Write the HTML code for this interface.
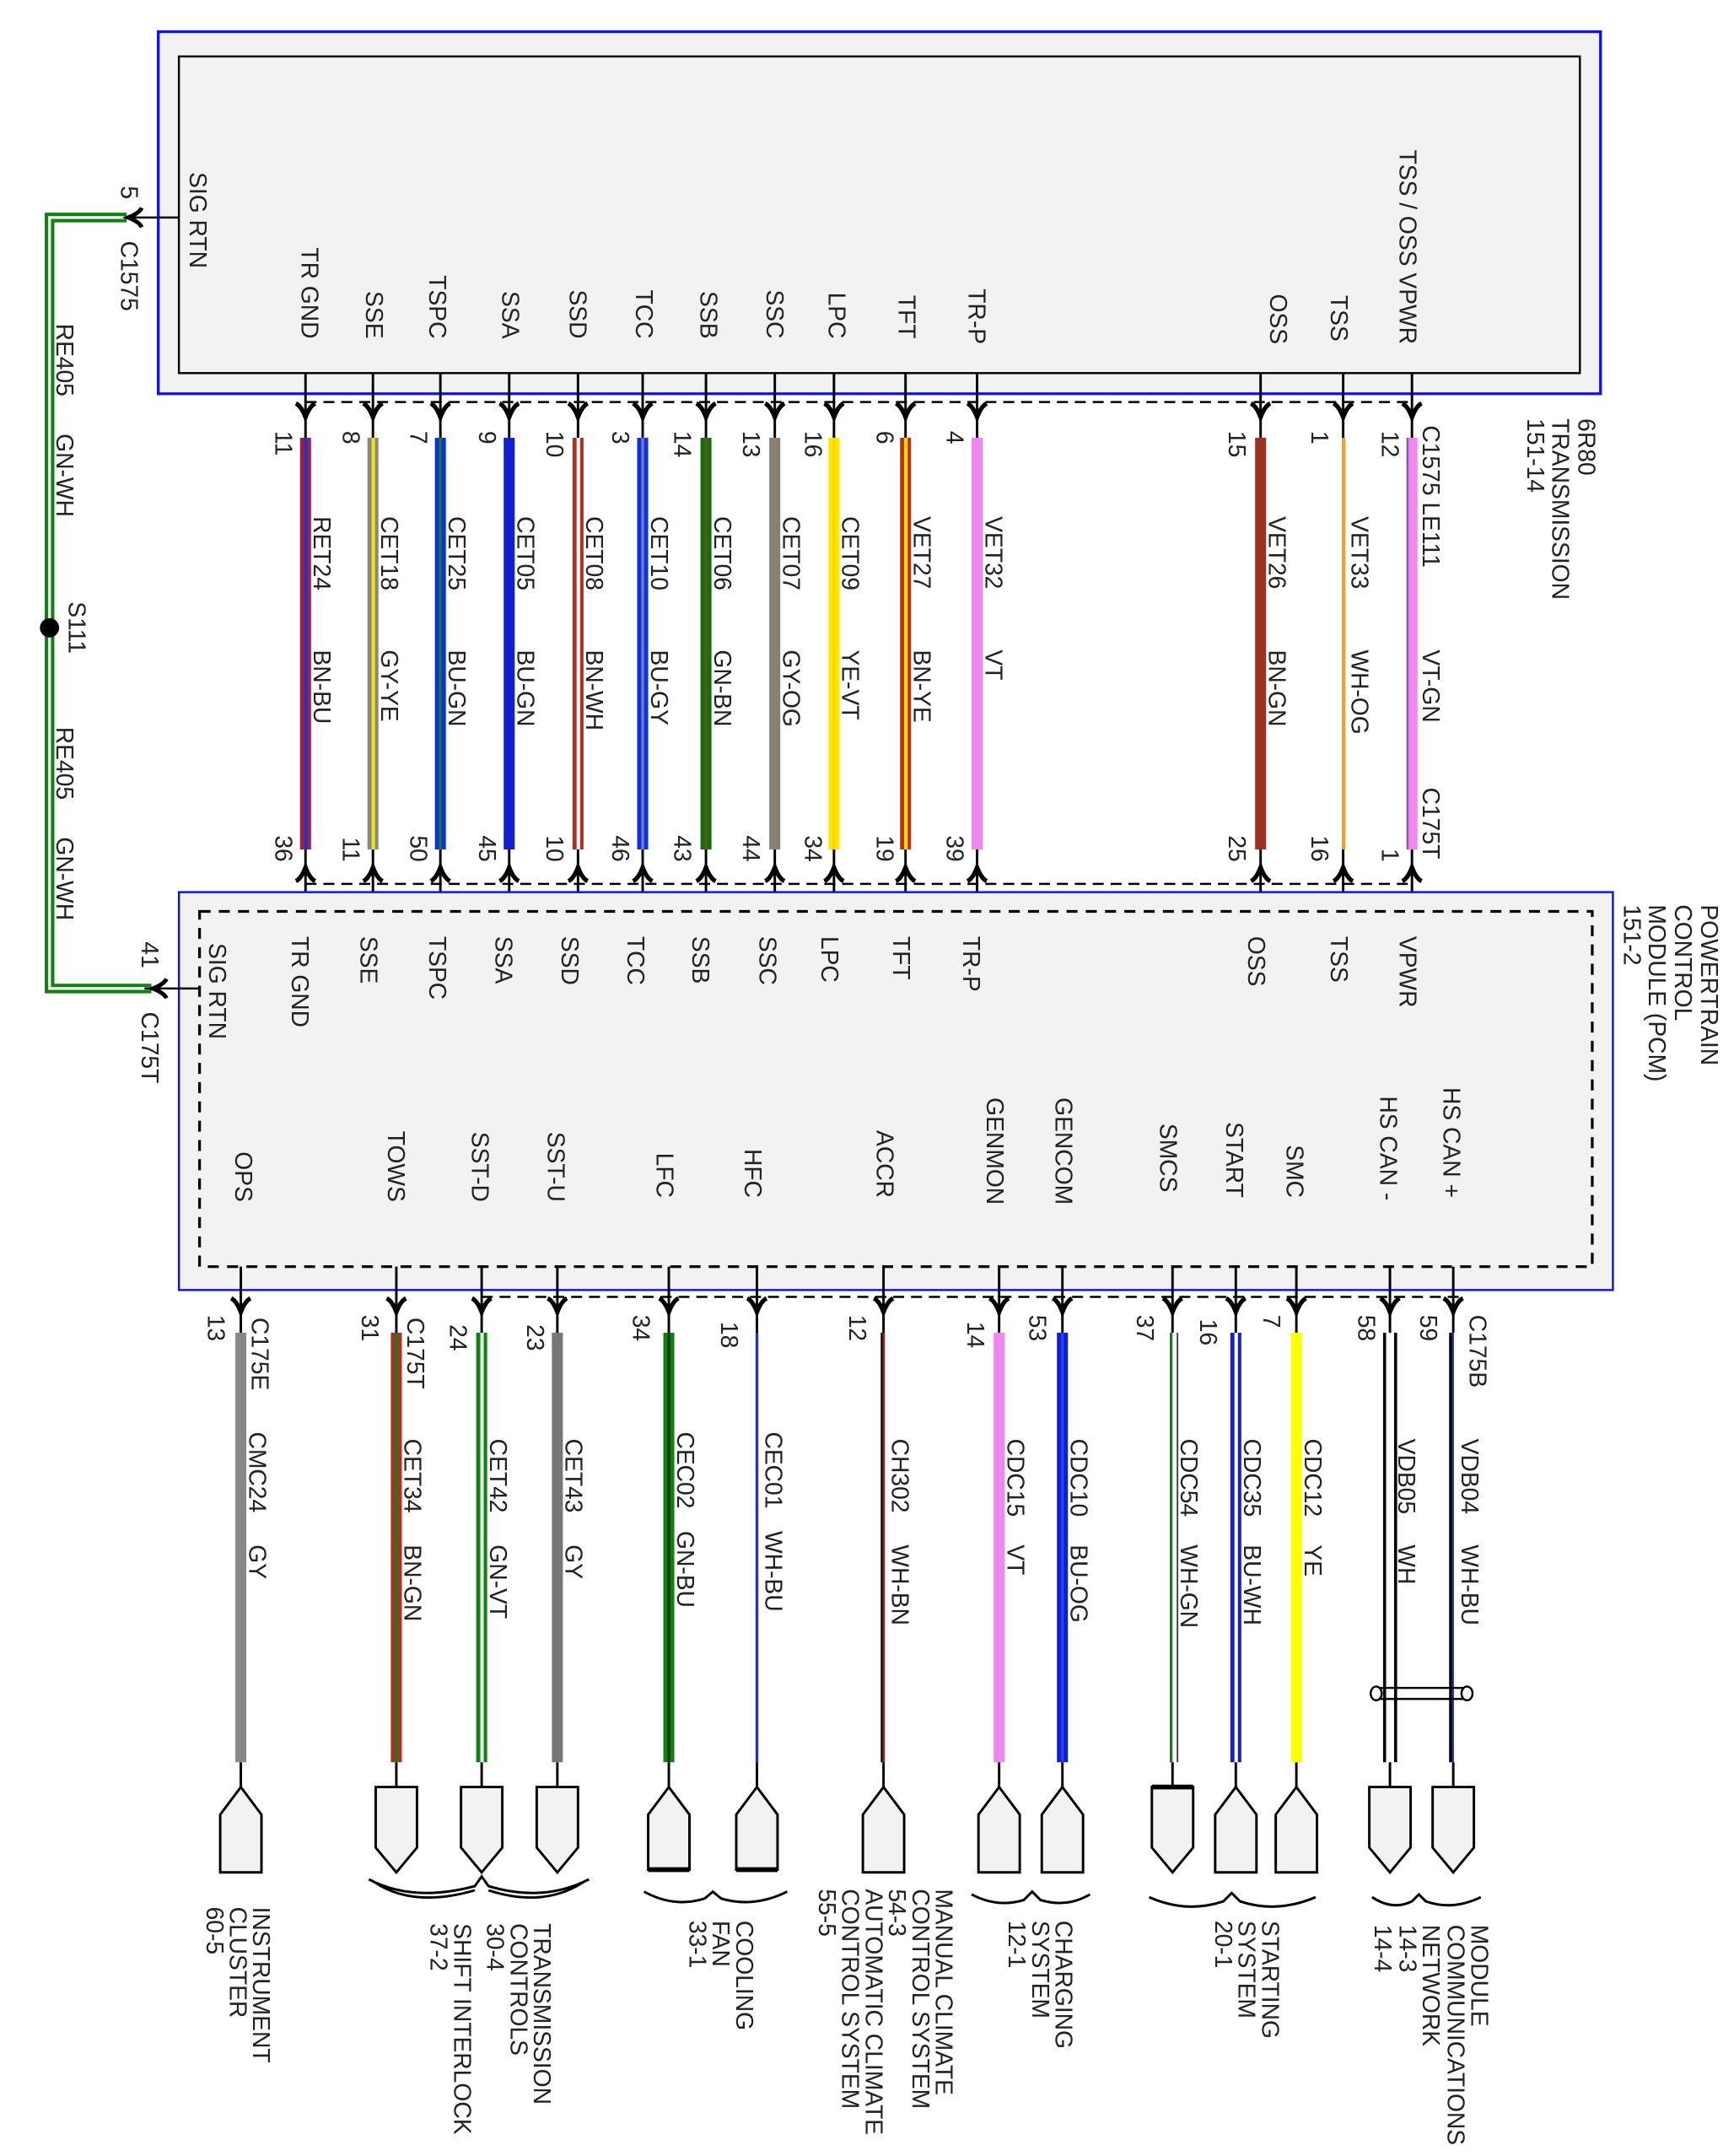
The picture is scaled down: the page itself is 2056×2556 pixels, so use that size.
<!DOCTYPE html>
<html><head><meta charset="utf-8"><style>
html,body{margin:0;padding:0;background:#fff}
svg{display:block}
text{font-family:"Liberation Sans",sans-serif;font-size:17.3px;fill:#222}
</style></head><body>
<svg width="2056" height="2556" viewBox="0 0 1260 1566" preserveAspectRatio="none" xmlns="http://www.w3.org/2000/svg">
<defs>
<path id="ad" d="M-7,-7 Q-3,-5 0,3 Q3,-5 7,-7" fill="none" stroke="#000" stroke-width="3.2"/>
<path id="au" d="M-7,7 Q-3,5 0,-3 Q3,5 7,7" fill="none" stroke="#000" stroke-width="3.2"/>
</defs>
<!-- TOP BOX -->
<rect x="115" y="23" width="1048" height="263" fill="#f2f2f2" stroke="#1010ee" stroke-width="2"/>
<rect x="130" y="41" width="1018" height="230" fill="none" stroke="#000" stroke-width="1.5"/>
<g text-anchor="end">
<text transform="translate(219,246) rotate(90)">TR GND</text>
<text transform="translate(266,246) rotate(90)">SSE</text>
<text transform="translate(312,246) rotate(90)">TSPC</text>
<text transform="translate(365,246) rotate(90)">SSA</text>
<text transform="translate(414,246) rotate(90)">SSD</text>
<text transform="translate(462,246) rotate(90)">TCC</text>
<text transform="translate(509,246) rotate(90)">SSB</text>
<text transform="translate(557,246) rotate(90)">SSC</text>
<text transform="translate(602,246) rotate(90)">LPC</text>
<text transform="translate(653,246) rotate(90)">TFT</text>
<text transform="translate(704,250) rotate(90)">TR-P</text>
<text transform="translate(923,250) rotate(90)">OSS</text>
<text transform="translate(967,248) rotate(90)">TSS</text>
<text transform="translate(1017,250) rotate(90)">TSS / OSS VPWR</text>
</g>
<text transform="translate(138,125) rotate(90)">SIG RTN</text>
<text transform="translate(1147,304) rotate(90)">6R80</text>
<text transform="translate(1128,304) rotate(90)">TRANSMISSION</text>
<text transform="translate(1110,304) rotate(90)">151-14</text>

<g stroke="#000" stroke-width="1.8">
<line x1="222" y1="271" x2="222" y2="318"/><line x1="271" y1="271" x2="271" y2="318"/><line x1="320" y1="271" x2="320" y2="318"/><line x1="370" y1="271" x2="370" y2="318"/><line x1="420" y1="271" x2="420" y2="318"/><line x1="467" y1="271" x2="467" y2="318"/><line x1="513" y1="271" x2="513" y2="318"/><line x1="563" y1="271" x2="563" y2="318"/><line x1="606" y1="271" x2="606" y2="318"/><line x1="658" y1="271" x2="658" y2="318"/><line x1="710" y1="271" x2="710" y2="318"/><line x1="916" y1="271" x2="916" y2="318"/><line x1="976" y1="271" x2="976" y2="318"/><line x1="1026" y1="271" x2="1026" y2="318"/>
<line x1="222" y1="617" x2="222" y2="662"/><line x1="271" y1="617" x2="271" y2="662"/><line x1="320" y1="617" x2="320" y2="662"/><line x1="370" y1="617" x2="370" y2="662"/><line x1="420" y1="617" x2="420" y2="662"/><line x1="467" y1="617" x2="467" y2="662"/><line x1="513" y1="617" x2="513" y2="662"/><line x1="563" y1="617" x2="563" y2="662"/><line x1="606" y1="617" x2="606" y2="662"/><line x1="658" y1="617" x2="658" y2="662"/><line x1="710" y1="617" x2="710" y2="662"/><line x1="916" y1="617" x2="916" y2="662"/><line x1="976" y1="617" x2="976" y2="662"/><line x1="1026" y1="617" x2="1026" y2="662"/>
</g>
<line x1="222" y1="292" x2="1028" y2="292" stroke="#000" stroke-width="1.5" stroke-dasharray="8,5"/>
<line x1="222" y1="642" x2="1028" y2="642" stroke="#000" stroke-width="1.5" stroke-dasharray="8,5"/>
<g>
<use href="#ad" x="222" y="300"/><use href="#ad" x="271" y="300"/><use href="#ad" x="320" y="300"/><use href="#ad" x="370" y="300"/><use href="#ad" x="420" y="300"/><use href="#ad" x="467" y="300"/><use href="#ad" x="513" y="300"/><use href="#ad" x="563" y="300"/><use href="#ad" x="606" y="300"/><use href="#ad" x="658" y="300"/><use href="#ad" x="710" y="300"/><use href="#ad" x="916" y="300"/><use href="#ad" x="976" y="300"/><use href="#ad" x="1026" y="300"/>
<use href="#au" x="222" y="633"/><use href="#au" x="271" y="633"/><use href="#au" x="320" y="633"/><use href="#au" x="370" y="633"/><use href="#au" x="420" y="633"/><use href="#au" x="467" y="633"/><use href="#au" x="513" y="633"/><use href="#au" x="563" y="633"/><use href="#au" x="606" y="633"/><use href="#au" x="658" y="633"/><use href="#au" x="710" y="633"/><use href="#au" x="916" y="633"/><use href="#au" x="976" y="633"/><use href="#au" x="1026" y="633"/>
</g>
<g>
<rect x="218" y="318" width="8" height="299" fill="#9b2335"/><rect x="221" y="318" width="2.5" height="299" fill="#2030d0"/>
<rect x="267" y="318" width="8" height="299" fill="#888"/><rect x="270" y="318" width="2.5" height="299" fill="#f0e800"/>
<rect x="316" y="318" width="8" height="299" fill="#1030e0"/><rect x="319" y="318" width="2" height="299" fill="#108010"/>
<rect x="366" y="318" width="8" height="299" fill="#1020d0"/>
<rect x="416" y="318" width="8" height="299" fill="#b03020"/><rect x="419" y="318" width="2.5" height="299" fill="#fff"/>
<rect x="463" y="318" width="8" height="299" fill="#1030e0"/><rect x="466" y="318" width="2" height="299" fill="#7080c0"/>
<rect x="509" y="318" width="8" height="299" fill="#107010"/><rect x="512" y="318" width="2" height="299" fill="#5a5a20"/>
<rect x="559" y="318" width="8" height="299" fill="#808080"/><rect x="562" y="318" width="2" height="299" fill="#a08050"/>
<rect x="602" y="318" width="8" height="299" fill="#ffe800"/><rect x="605" y="318" width="2" height="299" fill="#ffd000"/>
<rect x="654" y="318" width="8" height="299" fill="#c03010"/><rect x="657" y="318" width="2.5" height="299" fill="#f0e000"/>
<rect x="706" y="318" width="8" height="299" fill="#ee88ee"/>
<rect x="912" y="318" width="8" height="299" fill="#993322"/>
<rect x="975" y="318" width="2.5" height="299" fill="#f0a020"/>
<rect x="1022" y="318" width="8" height="299" fill="#ee88ee"/><rect x="1022" y="318" width="1.5" height="299" fill="#8060a0"/>
</g>
<g>
<text transform="translate(200,313) rotate(90)">11</text><text transform="translate(249,313) rotate(90)">8</text><text transform="translate(298,313) rotate(90)">7</text><text transform="translate(348,313) rotate(90)">9</text><text transform="translate(397,313) rotate(90)">10</text><text transform="translate(445,313) rotate(90)">3</text><text transform="translate(490,313) rotate(90)">14</text><text transform="translate(540,313) rotate(90)">13</text><text transform="translate(585,313) rotate(90)">16</text><text transform="translate(637,313) rotate(90)">6</text><text transform="translate(688,313) rotate(90)">4</text><text transform="translate(893,313) rotate(90)">15</text><text transform="translate(953,313) rotate(90)">1</text><text transform="translate(1004,313) rotate(90)">12</text>
<text transform="translate(1034,309) rotate(90)">C1575  LE111</text>
<text transform="translate(228,375) rotate(90)">RET24</text><text transform="translate(228,472) rotate(90)">BN-BU</text>
<text transform="translate(277,375) rotate(90)">CET18</text><text transform="translate(277,472) rotate(90)">GY-YE</text>
<text transform="translate(326,375) rotate(90)">CET25</text><text transform="translate(326,472) rotate(90)">BU-GN</text>
<text transform="translate(376,375) rotate(90)">CET05</text><text transform="translate(376,472) rotate(90)">BU-GN</text>
<text transform="translate(426,375) rotate(90)">CET08</text><text transform="translate(426,472) rotate(90)">BN-WH</text>
<text transform="translate(473,375) rotate(90)">CET10</text><text transform="translate(473,472) rotate(90)">BU-GY</text>
<text transform="translate(519,375) rotate(90)">CET06</text><text transform="translate(519,472) rotate(90)">GN-BN</text>
<text transform="translate(569,375) rotate(90)">CET07</text><text transform="translate(569,472) rotate(90)">GY-OG</text>
<text transform="translate(612,375) rotate(90)">CET09</text><text transform="translate(612,472) rotate(90)">YE-VT</text>
<text transform="translate(664,375) rotate(90)">VET27</text><text transform="translate(664,472) rotate(90)">BN-YE</text>
<text transform="translate(716,375) rotate(90)">VET32</text><text transform="translate(716,472) rotate(90)">VT</text>
<text transform="translate(922,375) rotate(90)">VET26</text><text transform="translate(922,472) rotate(90)">BN-GN</text>
<text transform="translate(982,375) rotate(90)">VET33</text><text transform="translate(982,472) rotate(90)">WH-OG</text>
<text transform="translate(1034,472) rotate(90)">VT-GN</text>
<text transform="translate(1034,572) rotate(90)">C175T</text>
</g>
<g text-anchor="end">
<text transform="translate(200,626) rotate(90)">36</text><text transform="translate(249,626) rotate(90)">11</text><text transform="translate(298,626) rotate(90)">50</text><text transform="translate(348,626) rotate(90)">45</text><text transform="translate(397,626) rotate(90)">10</text><text transform="translate(445,626) rotate(90)">46</text><text transform="translate(490,626) rotate(90)">43</text><text transform="translate(540,626) rotate(90)">44</text><text transform="translate(585,626) rotate(90)">34</text><text transform="translate(637,626) rotate(90)">19</text><text transform="translate(688,626) rotate(90)">39</text><text transform="translate(893,626) rotate(90)">25</text><text transform="translate(953,626) rotate(90)">16</text><text transform="translate(1004,626) rotate(90)">1</text>
</g>

<rect x="130" y="648" width="1042" height="289" fill="#f2f2f2" stroke="#1010ee" stroke-width="1.5"/>
<rect x="145" y="662" width="1012" height="258" fill="none" stroke="#000" stroke-width="2" stroke-dasharray="8,6"/>
<text transform="translate(1236,657) rotate(90)">POWERTRAIN</text>
<text transform="translate(1217,657) rotate(90)">CONTROL</text>
<text transform="translate(1198,657) rotate(90)">MODULE (PCM)</text>
<text transform="translate(1180,657) rotate(90)">151-2</text>
<g>
<text transform="translate(152,685) rotate(90)">SIG RTN</text>
<text transform="translate(212,680) rotate(90)">TR GND</text>
<text transform="translate(262,680) rotate(90)">SSE</text>
<text transform="translate(312,680) rotate(90)">TSPC</text>
<text transform="translate(360,680) rotate(90)">SSA</text>
<text transform="translate(408,680) rotate(90)">SSD</text>
<text transform="translate(456,680) rotate(90)">TCC</text>
<text transform="translate(503,680) rotate(90)">SSB</text>
<text transform="translate(552,680) rotate(90)">SSC</text>
<text transform="translate(597,680) rotate(90)">LPC</text>
<text transform="translate(649,680) rotate(90)">TFT</text>
<text transform="translate(700,680) rotate(90)">TR-P</text>
<text transform="translate(907,680) rotate(90)">OSS</text>
<text transform="translate(967,680) rotate(90)">TSS</text>
<text transform="translate(1017,680) rotate(90)">VPWR</text>
</g>
<g text-anchor="end">
<text transform="translate(171,873) rotate(90)">OPS</text>
<text transform="translate(282,873) rotate(90)">TOWS</text>
<text transform="translate(343,873) rotate(90)">SST-D</text>
<text transform="translate(398,873) rotate(90)">SST-U</text>
<text transform="translate(477,870) rotate(90)">LFC</text>
<text transform="translate(541,870) rotate(90)">HFC</text>
<text transform="translate(637,870) rotate(90)">ACCR</text>
<text transform="translate(717,875) rotate(90)">GENMON</text>
<text transform="translate(767,875) rotate(90)">GENCOM</text>
<text transform="translate(843,866) rotate(90)">SMCS</text>
<text transform="translate(891,870) rotate(90)">START</text>
<text transform="translate(935,870) rotate(90)">SMC</text>
<text transform="translate(1003,872) rotate(90)">HS CAN -</text>
<text transform="translate(1049,870) rotate(90)">HS CAN +</text>
</g>

<path d="M92,158 L36,158 L36,718 L110,718" fill="none" stroke="#108010" stroke-width="7"/>
<path d="M92,158 L36,158 L36,718 L110,718" fill="none" stroke="#fff" stroke-width="2"/>
<circle cx="36" cy="456" r="7" fill="#000"/>
<line x1="92" y1="158" x2="130" y2="158" stroke="#000" stroke-width="1.5"/>
<line x1="105" y1="718" x2="145" y2="718" stroke="#000" stroke-width="1.5"/>
<path d="M103,151 Q101,155 93,158 Q101,161 103,165" fill="none" stroke="#000" stroke-width="3"/>
<path d="M121,711 Q119,715 111,718 Q119,721 121,725" fill="none" stroke="#000" stroke-width="3"/>
<text transform="translate(88,135) rotate(90)">5</text>
<text transform="translate(88,175) rotate(90)">C1575</text>
<text transform="translate(41,235) rotate(90)">RE405</text>
<text transform="translate(41,315) rotate(90)">GN-WH</text>
<text transform="translate(50,437) rotate(90)">S111</text>
<text transform="translate(41,528) rotate(90)">RE405</text>
<text transform="translate(41,608) rotate(90)">GN-WH</text>
<text transform="translate(103,684) rotate(90)">41</text>
<text transform="translate(103,735) rotate(90)">C175T</text>

<line x1="350" y1="942" x2="1060" y2="942" stroke="#000" stroke-width="1.5" stroke-dasharray="8,5"/>
<g stroke="#000" stroke-width="1.8">
<line x1="175" y1="920" x2="175" y2="968"/><line x1="288" y1="920" x2="288" y2="968"/><line x1="350" y1="920" x2="350" y2="968"/><line x1="405" y1="920" x2="405" y2="968"/><line x1="486" y1="920" x2="486" y2="968"/><line x1="550" y1="920" x2="550" y2="968"/><line x1="642" y1="920" x2="642" y2="968"/><line x1="726" y1="920" x2="726" y2="968"/><line x1="772" y1="920" x2="772" y2="968"/><line x1="852" y1="920" x2="852" y2="968"/><line x1="898" y1="920" x2="898" y2="968"/><line x1="942" y1="920" x2="942" y2="968"/><line x1="1010" y1="920" x2="1010" y2="968"/><line x1="1056" y1="920" x2="1056" y2="968"/>
<line x1="175" y1="1280" x2="175" y2="1298"/><line x1="288" y1="1280" x2="288" y2="1298"/><line x1="350" y1="1280" x2="350" y2="1298"/><line x1="405" y1="1280" x2="405" y2="1298"/><line x1="486" y1="1280" x2="486" y2="1298"/><line x1="550" y1="1280" x2="550" y2="1298"/><line x1="642" y1="1280" x2="642" y2="1298"/><line x1="726" y1="1280" x2="726" y2="1298"/><line x1="772" y1="1280" x2="772" y2="1298"/><line x1="852" y1="1280" x2="852" y2="1298"/><line x1="898" y1="1280" x2="898" y2="1298"/><line x1="942" y1="1280" x2="942" y2="1298"/><line x1="1010" y1="1280" x2="1010" y2="1298"/><line x1="1056" y1="1280" x2="1056" y2="1298"/>
</g>
<g>
<use href="#ad" x="175" y="950"/><use href="#ad" x="288" y="950"/><use href="#ad" x="350" y="950"/><use href="#ad" x="405" y="950"/><use href="#ad" x="486" y="950"/><use href="#ad" x="550" y="950"/><use href="#ad" x="642" y="950"/><use href="#ad" x="726" y="950"/><use href="#ad" x="772" y="950"/><use href="#ad" x="852" y="950"/><use href="#ad" x="898" y="950"/><use href="#ad" x="942" y="950"/><use href="#ad" x="1010" y="950"/><use href="#ad" x="1056" y="950"/>
</g>
<g>
<rect x="171" y="968" width="8" height="312" fill="#888"/>
<rect x="284" y="968" width="8" height="312" fill="#b03020"/><rect x="287" y="968" width="2" height="312" fill="#108020"/>
<rect x="346" y="968" width="8" height="312" fill="#108010"/><rect x="349" y="968" width="2.5" height="312" fill="#e8e8e8"/>
<rect x="401" y="968" width="8" height="312" fill="#777"/>
<rect x="482" y="968" width="8" height="312" fill="#108010"/><rect x="485" y="968" width="2" height="312" fill="#0a3a10"/>
<rect x="549" y="968" width="2" height="312" fill="#2030d0"/>
<rect x="640" y="968" width="1.5" height="312" fill="#000"/><rect x="641.5" y="968" width="1.5" height="312" fill="#a02020"/>
<rect x="722" y="968" width="8" height="312" fill="#ee88ee"/>
<rect x="768" y="968" width="8" height="312" fill="#1020d0"/><rect x="771" y="968" width="2" height="312" fill="#2a40ff"/>
<rect x="850" y="968" width="2" height="312" fill="#108010"/><rect x="855" y="968" width="1.2" height="312" fill="#444"/>
<rect x="894" y="968" width="8" height="312" fill="#1020d0"/><rect x="897" y="968" width="2.5" height="312" fill="#fff"/>
<rect x="938" y="968" width="8" height="312" fill="#ffff00"/>
<rect x="1005" y="968" width="2.2" height="312" fill="#000"/><rect x="1013" y="968" width="2.2" height="312" fill="#000"/>
<rect x="1053" y="968" width="2" height="312" fill="#000"/><rect x="1055" y="968" width="1.5" height="312" fill="#2030d0"/>
</g>
<path d="M1000,1226 L1066,1226 M1000,1234 L1066,1234" stroke="#000" stroke-width="1.5"/>
<ellipse cx="1000" cy="1230" rx="4" ry="5" fill="#fff" stroke="#000" stroke-width="1.5"/>
<ellipse cx="1066" cy="1230" rx="4" ry="5" fill="#fff" stroke="#000" stroke-width="1.5"/>
<g>
<text transform="translate(151,955) rotate(90)">13</text><text transform="translate(263,955) rotate(90)">31</text><text transform="translate(327,962) rotate(90)">24</text><text transform="translate(383,962) rotate(90)">23</text><text transform="translate(460,955) rotate(90)">34</text><text transform="translate(524,960) rotate(90)">18</text><text transform="translate(617,955) rotate(90)">12</text><text transform="translate(703,960) rotate(90)">14</text><text transform="translate(748,955) rotate(90)">53</text><text transform="translate(826,955) rotate(90)">37</text><text transform="translate(872,958) rotate(90)">16</text><text transform="translate(918,955) rotate(90)">7</text><text transform="translate(987,955) rotate(90)">58</text><text transform="translate(1032,955) rotate(90)">59</text>
<text transform="translate(183,957) rotate(90)">C175E</text>
<text transform="translate(296,957) rotate(90)">C175T</text>
<text transform="translate(1068,955) rotate(90)">C175B</text>
<text transform="translate(181,1040) rotate(90)">CMC24</text><text transform="translate(181,1122) rotate(90)">GY</text>
<text transform="translate(294,1045) rotate(90)">CET34</text><text transform="translate(294,1122) rotate(90)">BN-GN</text>
<text transform="translate(356,1045) rotate(90)">CET42</text><text transform="translate(356,1122) rotate(90)">GN-VT</text>
<text transform="translate(411,1045) rotate(90)">CET43</text><text transform="translate(411,1122) rotate(90)">GY</text>
<text transform="translate(492,1040) rotate(90)">CEC02</text><text transform="translate(492,1112) rotate(90)">GN-BU</text>
<text transform="translate(556,1040) rotate(90)">CEC01</text><text transform="translate(556,1112) rotate(90)">WH-BU</text>
<text transform="translate(648,1045) rotate(90)">CH302</text><text transform="translate(648,1122) rotate(90)">WH-BN</text>
<text transform="translate(732,1045) rotate(90)">CDC15</text><text transform="translate(732,1122) rotate(90)">VT</text>
<text transform="translate(778,1045) rotate(90)">CDC10</text><text transform="translate(778,1122) rotate(90)">BU-OG</text>
<text transform="translate(858,1045) rotate(90)">CDC54</text><text transform="translate(858,1122) rotate(90)">WH-GN</text>
<text transform="translate(904,1045) rotate(90)">CDC35</text><text transform="translate(904,1122) rotate(90)">BU-WH</text>
<text transform="translate(948,1045) rotate(90)">CDC12</text><text transform="translate(948,1122) rotate(90)">YE</text>
<text transform="translate(1016,1045) rotate(90)">VDB05</text><text transform="translate(1016,1122) rotate(90)">WH</text>
<text transform="translate(1062,1045) rotate(90)">VDB04</text><text transform="translate(1062,1122) rotate(90)">WH-BU</text>
</g>
<g fill="#f2f2f2" stroke="#000" stroke-width="1.8">
<polygon points="160,1318 175,1298 190,1318 190,1360 160,1360"/>
<polygon points="273,1298 303,1298 303,1342 288,1360 273,1342"/>
<polygon points="335,1298 365,1298 365,1342 350,1360 335,1342"/>
<polygon points="390,1298 420,1298 420,1342 405,1360 390,1342"/>
<polygon points="471,1318 486,1298 501,1318 501,1358 471,1358"/>
<polygon points="535,1318 550,1298 565,1318 565,1358 535,1358"/>
<polygon points="627,1318 642,1298 657,1318 657,1360 627,1360"/>
<polygon points="711,1318 726,1298 741,1318 741,1360 711,1360"/>
<polygon points="757,1318 772,1298 787,1318 787,1360 757,1360"/>
<polygon points="837,1298 867,1298 867,1342 852,1360 837,1342"/>
<polygon points="883,1318 898,1298 913,1318 913,1360 883,1360"/>
<polygon points="927,1318 942,1298 957,1318 957,1360 927,1360"/>
<polygon points="995,1298 1025,1298 1025,1342 1010,1360 995,1342"/>
<polygon points="1041,1298 1071,1298 1071,1342 1056,1360 1041,1342"/>
</g>
<g stroke="#000" stroke-width="3.5">
<line x1="471" y1="1358" x2="501" y2="1358"/><line x1="535" y1="1358" x2="565" y2="1358"/><line x1="837" y1="1298" x2="867" y2="1298"/>
</g>
<g fill="none" stroke="#000" stroke-width="1.8">
<path d="M268,1365 Q300,1382 345,1370 L350,1363 L355,1370 Q395,1382 428,1365"/>
<path d="M272,1367 Q300,1386 345,1373 M355,1373 Q395,1386 424,1367"/>
<path d="M468,1374 Q490,1386 512,1379 L518,1374 L524,1379 Q548,1386 572,1374"/>
<path d="M706,1376 Q725,1386 744,1380 L750,1374 L756,1380 Q775,1386 792,1376"/>
<path d="M835,1378 Q862,1390 889,1381 L895,1375 L901,1381 Q928,1390 956,1378"/>
<path d="M997,1378 Q1012,1388 1026,1381 L1031,1376 L1036,1381 Q1055,1388 1076,1378"/>
</g>
<g>
<text transform="translate(184,1385) rotate(90)">INSTRUMENT</text>
<text transform="translate(167,1385) rotate(90)">CLUSTER</text>
<text transform="translate(150,1385) rotate(90)">60-5</text>
<text transform="translate(388,1397) rotate(90)">TRANSMISSION</text>
<text transform="translate(371,1397) rotate(90)">CONTROLS</text>
<text transform="translate(354,1397) rotate(90)">30-4</text>
<text transform="translate(330,1397) rotate(90)">SHIFT INTERLOCK</text>
<text transform="translate(313,1397) rotate(90)">37-2</text>
<text transform="translate(535,1395) rotate(90)">COOLING</text>
<text transform="translate(518,1395) rotate(90)">FAN</text>
<text transform="translate(501,1395) rotate(90)">33-1</text>
<text transform="translate(680,1372) rotate(90)">MANUAL CLIMATE</text>
<text transform="translate(663,1372) rotate(90)">CONTROL SYSTEM</text>
<text transform="translate(646,1372) rotate(90)">54-3</text>
<text transform="translate(629,1372) rotate(90)">AUTOMATIC CLIMATE</text>
<text transform="translate(612,1372) rotate(90)">CONTROL SYSTEM</text>
<text transform="translate(595,1372) rotate(90)">55-5</text>
<text transform="translate(767,1395) rotate(90)">CHARGING</text>
<text transform="translate(750,1395) rotate(90)">SYSTEM</text>
<text transform="translate(733,1395) rotate(90)">12-1</text>
<text transform="translate(917,1395) rotate(90)">STARTING</text>
<text transform="translate(900,1395) rotate(90)">SYSTEM</text>
<text transform="translate(883,1395) rotate(90)">20-1</text>
<text transform="translate(1069,1398) rotate(90)">MODULE</text>
<text transform="translate(1052,1398) rotate(90)">COMMUNICATIONS</text>
<text transform="translate(1034,1398) rotate(90)">NETWORK</text>
<text transform="translate(1017,1398) rotate(90)">14-3</text>
<text transform="translate(999,1398) rotate(90)">14-4</text>
</g>
</svg>
</body></html>
